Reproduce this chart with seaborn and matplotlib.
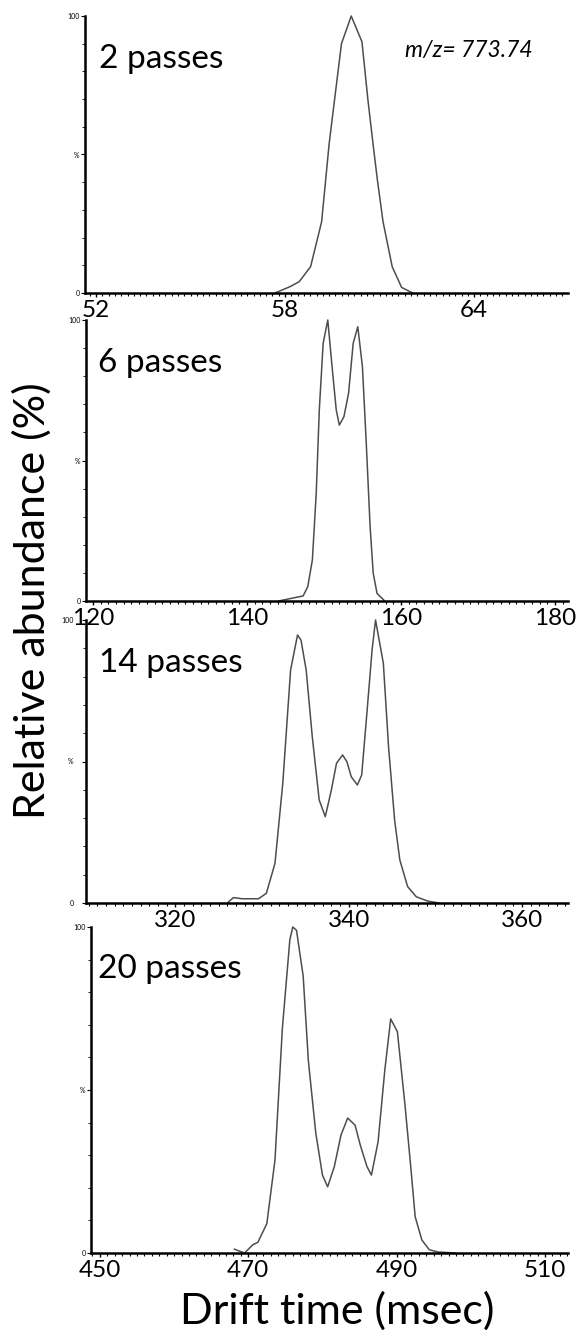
import numpy as np
import pandas as pd
import matplotlib
matplotlib.use('Agg')
import matplotlib.pyplot as plt
import seaborn as sns
from matplotlib.ticker import MultipleLocator, FixedLocator

# drift time traces (msec, % abundance)
t_2 = [57.68, 58.16, 58.45, 58.81, 59.16, 59.40, 59.57, 59.79, 60.10, 60.44, 60.63,
       60.79, 60.93, 61.11, 61.40, 61.70, 62.05]
i_2 = [0, 2.3, 4.1, 9.5, 25.7, 54, 69.7, 90, 100, 90.7, 69.7, 54, 40.8, 25.7, 9.5, 2, 0]

t_6 = [144.1, 147.3, 147.9, 148.5, 149.0, 149.4, 149.9, 150.5, 151.1, 151.6, 152.0,
       152.6, 153.2, 153.8, 154.4, 155.0, 155.5, 156.0, 156.4, 156.9, 157.9]
i_6 = [0, 1.8, 5.1, 14.6, 38.3, 68, 91.7, 100, 82.2, 68, 62.6,
       65.6, 73.9, 91.7, 97.6, 83.4, 56.1, 26.4, 9.9, 2.7, 0]

t_14 = [326.0, 326.7, 327.7, 329.6, 330.5, 331.5, 332.4, 333.3, 334.1, 334.5, 335.1,
        335.8, 336.6, 337.3, 338.0, 338.6, 339.3, 339.8, 340.3, 341.0, 341.5, 342.1,
        342.7, 343.1, 344.0, 344.6, 345.3, 345.9, 346.8, 347.8, 349.1, 350.4]
i_14 = [0, 1.9, 1.5, 1.5, 3.4, 14, 42.3, 82.3, 94.7, 92.9, 82.3,
        58.8, 36.4, 30.5, 39.9, 49.4, 52.3, 49.9, 44.6, 41.7, 45.2, 67,
        89.4, 100, 84.7, 55.2, 29.3, 15.2, 5.8, 2.2, 0.7, 0]

t_20 = [468.1, 469.5, 470.6, 471.3, 472.5, 473.6, 474.6, 475.6, 476.0, 476.5, 477.4,
        478.1, 479.1, 480.0, 480.7, 481.6, 482.5, 483.4, 484.4, 485.1, 486.0, 486.6,
        487.5, 488.4, 489.2, 490.1, 491.1, 491.9, 492.5, 493.4, 494.4, 495.6, 497.9]
i_20 = [1.2, 0, 2.5, 3.3, 9, 28.5, 69, 96, 100, 99, 85,
        59, 36.8, 23.9, 20.3, 26.5, 36.2, 41.4, 39.2, 33.1, 26.5, 23.9,
        34.1, 56, 71.8, 67.9, 46, 26.5, 11.1, 4, 1, 0.3, 0]

labels = ['2 passes', '6 passes', '14 passes', '20 passes']
x_ticks = [[52, 58, 64], [120, 140, 160, 180], [320, 340, 360], [450, 470, 490, 510]]
x_lims = [(51.65, 66.98), (119.1, 181.7), (309.7, 365.3), (448.8, 513.1)]
x_minor = [0.2, 1, 1, 1]

traces = [(t_2, i_2), (t_6, i_6), (t_14, i_14), (t_20, i_20)]

sns.set_style('ticks')
plt.rcParams['font.family'] = ['Lato', 'DejaVu Sans']
plt.rcParams['text.color'] = 'black'
plt.rcParams['xtick.color'] = 'black'
plt.rcParams['ytick.color'] = 'black'

W, H = 580, 1330
fig = plt.figure(figsize=(W / 100, H / 100), dpi=100)

# axes boxes in pixels: left, right, top, bottom
boxes = [(85, 568, 16, 293), (86, 568, 320, 601), (86, 568, 620, 903), (91, 568, 927, 1253)]
label_pos = [(99, 68), (98, 372), (99, 672), (98, 978)]
y_pad = [1, 1, 6, 1]

for k, (t, y) in enumerate(traces):
    l, r, tp, b = boxes[k]
    ax = fig.add_axes([l / W, 1 - b / H, (r - l) / W, (b - tp) / H])
    ax.set_facecolor('none')
    df = pd.DataFrame({'t': t, 'i': y})
    sns.lineplot(data=df, x='t', y='i', ax=ax, color='#4d4d4d', linewidth=1.1,
                 sort=False, clip_on=False)
    ax.set_xlim(*x_lims[k])
    ax.set_ylim(0, 100)
    ax.set_xlabel('')
    ax.set_ylabel('')
    for s in ['top', 'right']:
        ax.spines[s].set_visible(False)
    for s in ['left', 'bottom']:
        ax.spines[s].set_linewidth(1.8)
        ax.spines[s].set_color('black')
    ax.xaxis.set_major_locator(FixedLocator(x_ticks[k]))
    ax.xaxis.set_minor_locator(MultipleLocator(x_minor[k]))
    ax.set_xticklabels([str(v) for v in x_ticks[k]])
    ax.tick_params(axis='x', which='major', length=3, width=1, pad=2, labelsize=17.5,
                   colors='black')
    ax.tick_params(axis='x', which='minor', length=2.5, width=0.8, colors='black')
    ax.yaxis.set_major_locator(FixedLocator([0, 50, 100]))
    ax.yaxis.set_minor_locator(MultipleLocator(10))
    ax.set_yticklabels(['0', '%', '100'])
    ax.tick_params(axis='y', which='major', length=3, width=0.8, pad=y_pad[k], labelsize=5,
                   colors='black')
    ax.tick_params(axis='y', which='minor', length=2, width=0.6, colors='black')
    for lab in ax.get_xticklabels() + ax.get_yticklabels():
        lab.set_clip_on(False)
    lx, ly = label_pos[k]
    fig.text(lx / W, 1 - ly / H, labels[k], fontsize=24, ha='left', va='baseline',
             color='black')

fig.text(405 / W, 1 - 57 / H, 'm/z= 773.74', fontsize=16.5, style='italic',
         ha='left', va='baseline', color='black')
fig.text(32 / W, 1 - 601 / H, 'Relative abundance (%)', fontsize=31,
         rotation=90, ha='center', va='center', color='black')
fig.text(337 / W, 1 - 1311 / H, 'Drift time (msec)', fontsize=31,
         ha='center', va='center', color='black')

fig.savefig('out.png', dpi=100)
